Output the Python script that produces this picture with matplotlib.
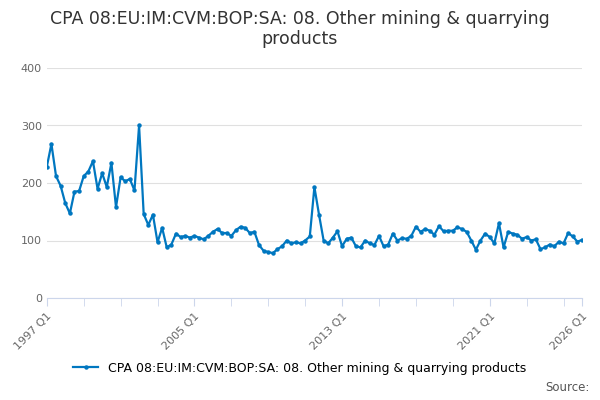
import numpy as np
import matplotlib.pyplot as plt

values = [228, 268, 212, 195, 165, 147, 185, 186, 212, 220,
          238, 190, 217, 193, 235, 158, 210, 203, 207, 187,
          300, 146, 127, 145, 97, 122, 88, 93, 112, 106,
          108, 105, 108, 105, 102, 108, 115, 120, 113, 113,
          108, 118, 124, 122, 113, 115, 92, 82, 80, 78,
          85, 90, 100, 95, 97, 95, 100, 107, 193,
          145, 100, 95, 105, 116, 90, 103, 105, 90, 88,
          100, 95, 92, 108, 90, 93, 112, 100, 104, 103,
          108, 124, 115, 120, 117, 110, 125, 116, 117, 117,
          123, 120, 115, 100, 84, 100, 112, 106, 95, 130,
          88, 115, 112, 110, 103, 106, 100, 102, 85, 88,
          93, 90, 98, 95, 113, 107, 98, 101]
tick_pos = [0, 32, 64, 96, 116]
tick_labels = ['1997 Q1', '2005 Q1', '2013 Q1', '2021 Q1', '2026 Q1']
label = 'CPA 08:EU:IM:CVM:BOP:SA: 08. Other mining & quarrying products'

fig = plt.figure(figsize=(6, 4), dpi=100)
ax = fig.add_axes([0.078, 0.255, 0.892, 0.575])
x = np.arange(len(values))
ax.plot(x, values, color='#0077c0', lw=1.6, marker='o', ms=2.2, label=label)
ax.set_ylim(0, 400)
ax.set_yticks([0, 100, 200, 300, 400])
ax.set_xlim(0, 116)
ax.set_xticks(tick_pos)
ax.set_xticklabels(tick_labels, rotation=45, ha='right', rotation_mode='anchor')
ax.set_xticks(np.arange(0, 117, 8), minor=True)
ax.grid(axis='y', color='#e0e0e0', lw=0.8)
ax.set_axisbelow(True)
for s in ['top', 'right', 'left']:
    ax.spines[s].set_visible(False)
ax.spines['bottom'].set_color('#ccd6eb')
ax.tick_params(axis='y', length=0, colors='#666666', labelsize=8)
ax.tick_params(axis='x', which='both', colors='#ccd6eb', labelcolor='#666666', labelsize=8, length=6)
fig.text(0.5, 0.975, 'CPA 08:EU:IM:CVM:BOP:SA: 08. Other mining & quarrying\nproducts',
         ha='center', va='top', fontsize=12.5, color='#333333', linespacing=1.15)
fig.legend(loc='lower center', bbox_to_anchor=(0.5, 0.035), frameon=False, fontsize=9,
           handlelength=2)
fig.text(0.982, 0.015, 'Source:', ha='right', va='bottom', fontsize=8.5, color='#555555')
fig.savefig('out.png')
